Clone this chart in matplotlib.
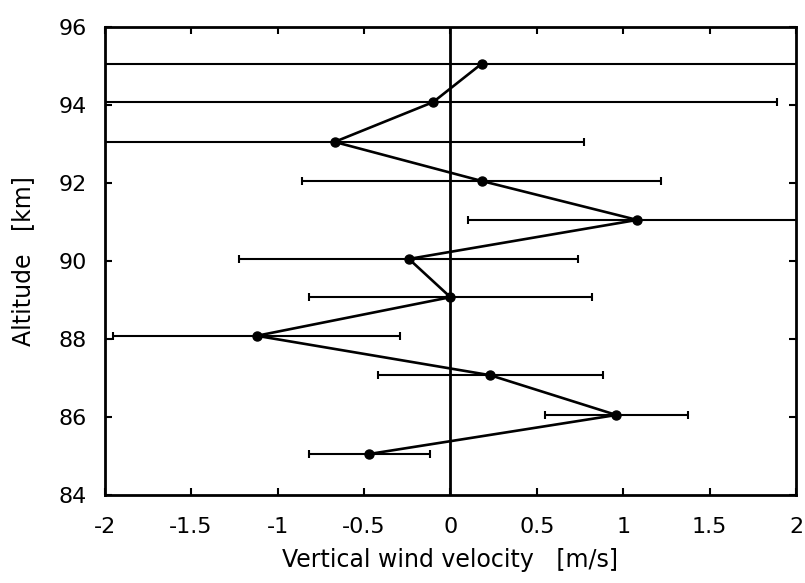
import numpy as np
import matplotlib.pyplot as plt

plt.rcParams['font.family'] = ['DejaVu Sans']

# altitude [km], vertical wind velocity [m/s], error [m/s]
altitude = [95.05, 94.07, 93.05, 92.05, 91.05, 90.05, 89.07, 88.08, 87.07, 86.05, 85.05]
velocity = [0.18, -0.10, -0.67, 0.18, 1.08, -0.24, 0.00, -1.12, 0.23, 0.96, -0.47]
error = [3.0, 1.99, 1.44, 1.04, 0.98, 0.98, 0.82, 0.83, 0.65, 0.415, 0.35]

fig = plt.figure(figsize=(8.05, 5.83), dpi=100)
ax = fig.add_axes([0.130, 0.151, 0.859, 0.803])

ax.axvline(0, color='black', lw=2.0, zorder=1)
ax.errorbar(velocity, altitude, xerr=error, fmt='none', ecolor='black',
            elinewidth=1.5, capsize=3, capthick=1.5, zorder=2)
ax.plot(velocity, altitude, color='black', lw=1.9, marker='o', ms=6.5, zorder=3)

ax.set_xlim(-2, 2)
ax.set_ylim(84, 96)
ax.set_xticks(np.arange(-2, 2.01, 0.5))
ax.set_xticklabels(['-2', '-1.5', '-1', '-0.5', '0', '0.5', '1', '1.5', '2'])
ax.set_yticks(np.arange(84, 97, 2))

ax.tick_params(direction='in', length=5, width=1.5, top=True, right=True,
               labelsize=16)
ax.tick_params(axis='x', pad=16)
ax.tick_params(axis='y', pad=13)
for s in ax.spines.values():
    s.set_linewidth(2.0)

ax.set_xlabel('Vertical wind velocity   [m/s]', fontsize=17, labelpad=8)
ax.set_ylabel('Altitude   [km]', fontsize=17, labelpad=17)

fig.savefig('out.png', dpi=100, facecolor='white')
